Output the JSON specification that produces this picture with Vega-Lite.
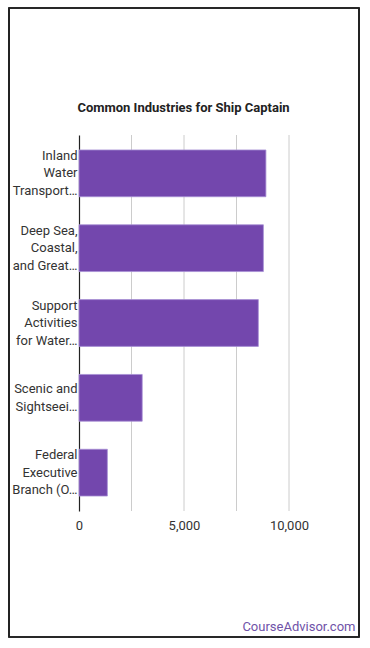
{
  "$schema": "https://vega.github.io/schema/vega-lite/v6.json",
  "autosize": {"type": "none"},
  "width": 210,
  "height": 376,
  "padding": {"left": 79, "top": 135, "right": 81, "bottom": 137},
  "background": "#ffffff",
  "config": {
    "font": "Roboto",
    "view": {"stroke": null}
  },
  "data": {
    "values": [
      {"industry": "Inland|Water|Transport…", "employees": 8900},
      {"industry": "Deep Sea,|Coastal,|and Great…", "employees": 8780},
      {"industry": "Support|Activities|for Water…", "employees": 8540},
      {"industry": "Scenic and|Sightseei…", "employees": 3010},
      {"industry": "Federal|Executive|Branch (O…", "employees": 1350}
    ]
  },
  "resolve": {"axis": {"x": "independent"}},
  "layer": [
    {
      "mark": {"type": "rect", "fill": null, "stroke": "#222222", "strokeWidth": 1.2},
      "encoding": {
        "x": {"value": -70},
        "x2": {"value": 280},
        "y": {"value": -127},
        "y2": {"value": 502}
      }
    },
    {
      "mark": {"type": "rule", "color": "#cccccc", "strokeWidth": 1},
      "data": {"values": [{"v": 2500}, {"v": 5000}, {"v": 7500}, {"v": 10000}]},
      "encoding": {
        "x": {
          "field": "v",
          "type": "quantitative",
          "scale": {"domain": [0, 10000], "nice": false},
          "axis": {
            "orient": "top",
            "labels": false,
            "ticks": false,
            "domain": false,
            "grid": false,
            "title": "Common Industries for Ship Captain",
            "titleX": 104,
            "titleY": -24,
            "titleAlign": "center",
            "titleBaseline": "alphabetic",
            "titleFontSize": 13,
            "titleFontWeight": "bold",
            "titleColor": "#222222"
          }
        }
      }
    },
    {
      "mark": {"type": "bar", "color": "#7347ad", "stroke": "#a78fd4", "strokeWidth": 0.8},
      "encoding": {
        "y": {
          "field": "industry",
          "type": "nominal",
          "sort": null,
          "scale": {"paddingInner": 0.375, "paddingOuter": 0.2},
          "axis": {
            "title": null,
            "labelExpr": "split(datum.label, '|')",
            "labelFontSize": 13,
            "labelColor": "#333333",
            "labelLineHeight": 17.5,
            "labelBaseline": "middle",
            "labelOffset": {"condition": {"test": "indexof(datum.value, 'Scenic') >= 0", "value": -8.75}, "value": -17.5},
            "labelPadding": 2,
            "ticks": false,
            "domain": true,
            "domainColor": "#222222",
            "domainWidth": 1.2,
            "labelLimit": 80
          }
        },
        "x": {
          "field": "employees",
          "type": "quantitative",
          "scale": {"domain": [0, 10000], "nice": false},
          "axis": {
            "orient": "bottom",
            "values": [0, 5000, 10000],
            "format": ",d",
            "labelFlush": false,
            "labelFontSize": 13,
            "labelColor": "#333333",
            "labelPadding": 8,
            "ticks": false,
            "domain": false,
            "grid": false,
            "title": "CourseAdvisor.com",
            "titleX": 276,
            "titleY": 119,
            "titleAlign": "right",
            "titleBaseline": "alphabetic",
            "titleFontSize": 13,
            "titleFontWeight": "normal",
            "titleColor": "#6f52a8"
          }
        }
      }
    }
  ]
}
